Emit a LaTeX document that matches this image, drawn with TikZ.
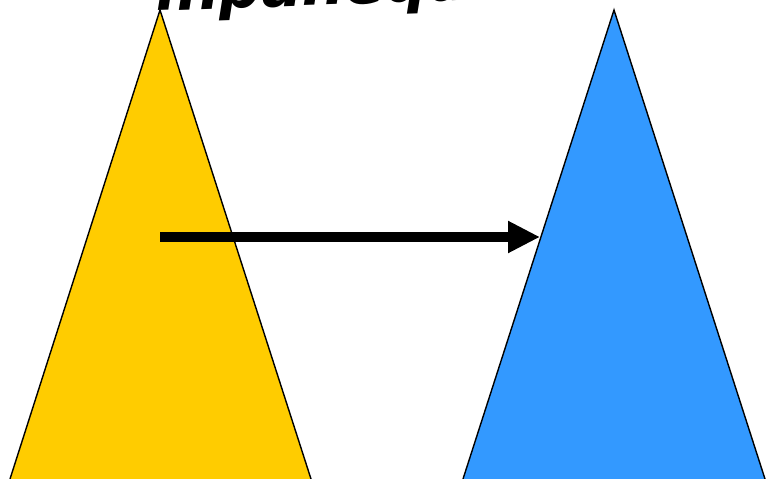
\documentclass[tikz,border=0pt]{standalone}
\usepackage{fontspec}
\setmainfont{DejaVu Sans}
\usepackage{tikz}
\usetikzlibrary{positioning,arrows.meta}
\usepackage{xcolor}
\definecolor{gold}{HTML}{FFCC00}
\definecolor{sky}{HTML}{3399FF}

\begin{document}
\begin{tikzpicture}[
    x=0.02cm, y=-0.02cm,
    tri/.style={draw=black, line width=0.8pt},
    title/.style={font=\bfseries\itshape\fontsize{34}{40}\selectfont, anchor=base, inner sep=0pt, rotate=2},
    map/.style={line width=0.2cm, -{Triangle[length=0.64cm,width=0.6cm]}},
]
\useasboundingbox (0,0) rectangle (767,479);
\clip (0,0) rectangle (767,479);
\node[title] (head) at (355,4) {inpanequim};
\draw[tri, fill=gold] (10,479) -- (160,10) -- (311,479);
\draw[tri, fill=sky] (463,479) -- (614,10) -- (765,479);
\coordinate (src) at (160,237);
\coordinate (dst) at (540,237);
\draw[map] (src) -- (dst);
\end{tikzpicture}
\end{document}
